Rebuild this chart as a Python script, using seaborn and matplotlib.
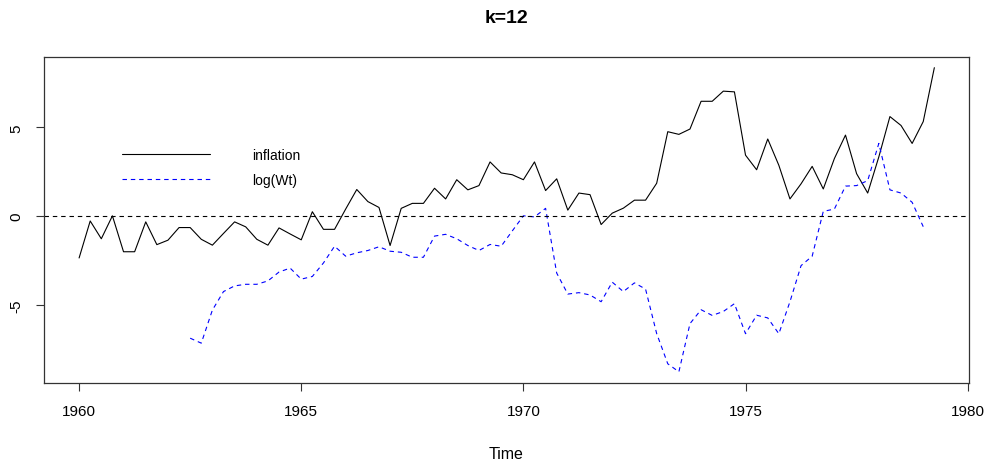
import numpy as np
import pandas as pd
import matplotlib
matplotlib.use('Agg')
import matplotlib.pyplot as plt
import seaborn as sns

# serie trimestrielle, debut 1960 Q1
start_year = 1960
freq = 4

inflation = [
    -2.35, -0.27, -1.27, 0.02, -2.0, -2.0, -0.32, -1.6, -1.35, -0.64,
    -0.64, -1.3, -1.63, -0.97, -0.32, -0.6, -1.3, -1.63, -0.66, -1.0,
    -1.33, 0.25, -0.74, -0.74, 0.4, 1.5, 0.82, 0.49, -1.65, 0.44,
    0.72, 0.72, 1.57, 0.97, 2.05, 1.48, 1.72, 3.05, 2.43, 2.33,
    2.05, 3.05, 1.44, 2.1, 0.34, 1.3, 1.21, -0.47, 0.17, 0.45,
    0.9, 0.9, 1.85, 4.75, 4.6, 4.9, 6.46, 6.46, 7.03, 6.99,
    3.43, 2.61, 4.34, 2.86, 0.97, 1.82, 2.8, 1.53, 3.24, 4.56,
    2.39, 1.3, 3.33, 5.6, 5.1, 4.09, 5.32, 8.35,
]

# log(Wt) commence au 11e trimestre (1962.5)
logwt_offset = 10
log_wt = [
    -6.86, -7.14, -5.28, -4.24, -3.92, -3.83, -3.83, -3.64, -3.14, -2.92,
    -3.54, -3.39, -2.63, -1.69, -2.25, -2.06, -1.93, -1.72, -1.97, -2.03,
    -2.31, -2.31, -1.12, -1.02, -1.27, -1.65, -1.93, -1.59, -1.69, -0.83,
    0.02, -0.04, 0.44, -3.2, -4.38, -4.3, -4.43, -4.81, -3.71, -4.24,
    -3.75, -4.1, -6.6, -8.3, -8.75, -6.04, -5.26, -5.58, -5.36, -4.92,
    -6.61, -5.57, -5.72, -6.61, -4.81, -2.78, -2.25, 0.27, 0.4, 1.69,
    1.72, 2.0, 4.09, 1.48, 1.3, 0.78, -0.59,
]

x_ticks = [1960, 1965, 1970, 1975, 1980]
y_ticks = [-5, 0, 5]

t_infl = start_year + np.arange(len(inflation)) / freq
t_wt = start_year + (logwt_offset + np.arange(len(log_wt))) / freq
df_infl = pd.DataFrame({'Time': t_infl, 'value': inflation})
df_wt = pd.DataFrame({'Time': t_wt, 'value': log_wt})

sns.set_style('white')
plt.rcParams['font.family'] = ['Liberation Sans', 'DejaVu Sans']
plt.rcParams['text.color'] = 'black'
plt.rcParams['axes.labelcolor'] = 'black'
plt.rcParams['xtick.labelcolor'] = 'black'
plt.rcParams['ytick.labelcolor'] = 'black'

fig = plt.figure(figsize=(9.89, 4.64), dpi=100)
ax = fig.add_axes([44 / 989, 1 - 384 / 464, (969 - 44) / 989, (384 - 58) / 464])

sns.lineplot(data=df_infl, x='Time', y='value', ax=ax, color='black',
             linewidth=0.8, label='inflation')
sns.lineplot(data=df_wt, x='Time', y='value', ax=ax, color='#0000ff',
             linewidth=0.8, linestyle=(0, (4, 3.5)), label='log(Wt)')
ax.axhline(0, color='black', linewidth=0.8, linestyle=(0, (4, 3.5)))

ax.set_xlim(1959.21, 1980.03)
ax.set_ylim(-9.38, 8.95)
ax.set_xticks(x_ticks)
ax.set_yticks(y_ticks)
ax.set_yticklabels([str(v) for v in y_ticks], rotation=90, va='center')
ax.tick_params(axis='both', direction='out', length=5.5, width=0.8,
               color='#333333', labelsize=11, pad=9.5, left=True, bottom=True)
for s in ax.spines.values():
    s.set_color('#333333')
    s.set_linewidth(0.9)

ax.set_xlabel('Time', fontsize=11.5, labelpad=20)
ax.set_ylabel('')
ax.set_title('k=12', fontsize=14, fontweight='bold', pad=25, color='black')

ax.legend(loc='upper left', bbox_to_anchor=(122 / 989, 1 - 149 / 464),
          bbox_transform=fig.transFigure, frameon=False, fontsize=10,
          handlelength=6.3, handletextpad=3.1, labelspacing=0.8,
          borderpad=0, borderaxespad=0)

fig.savefig('out.png', dpi=100)
